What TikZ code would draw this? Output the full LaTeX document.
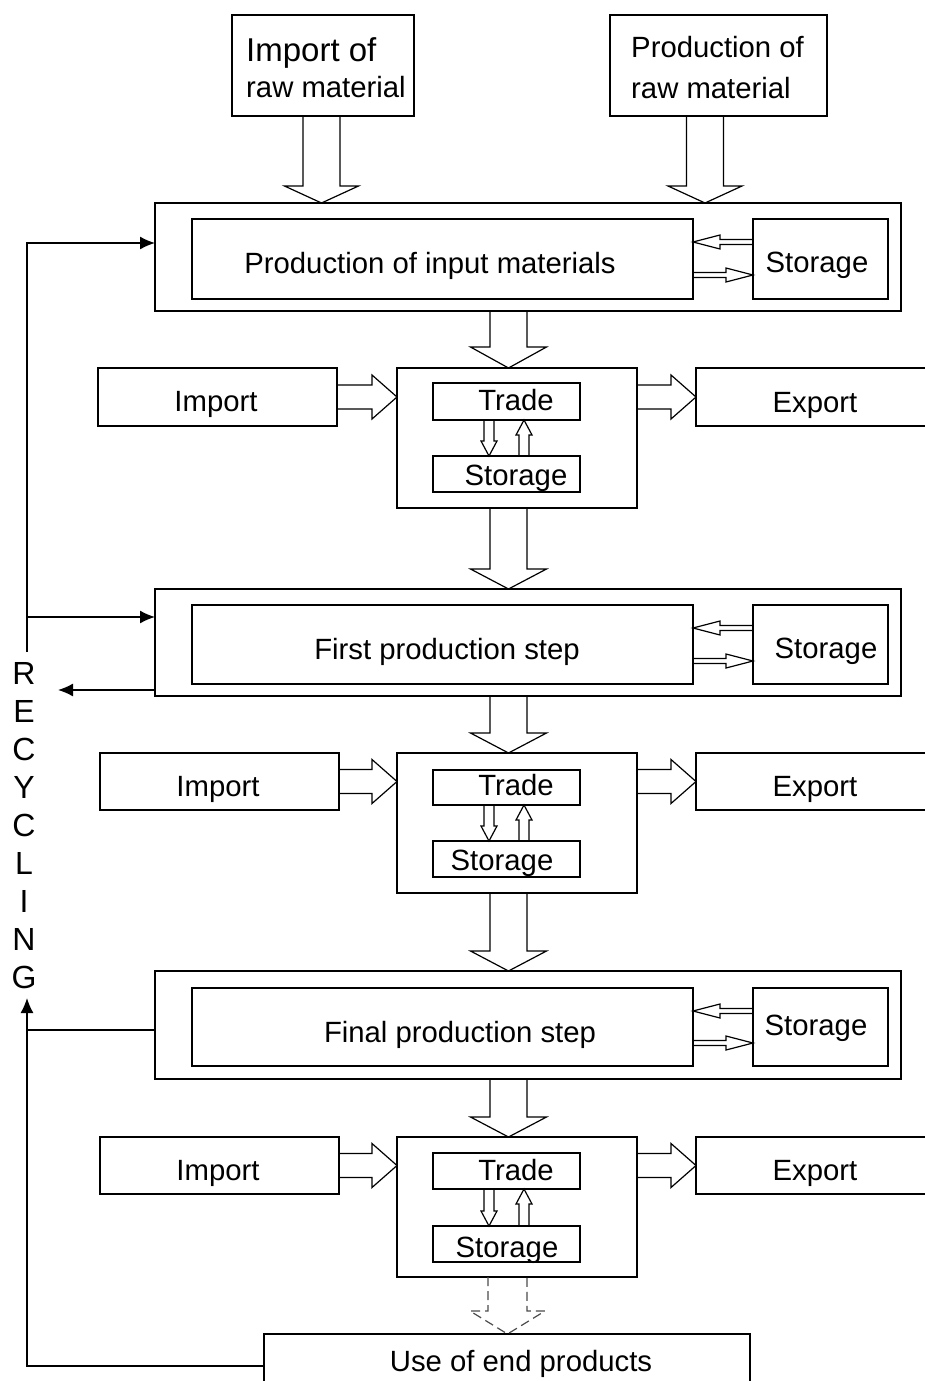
\documentclass[tikz,border=0pt]{standalone}
\usepackage{fontspec}
\setmainfont{Liberation Sans}
\usetikzlibrary{calc,arrows.meta}
\tikzset{
  box/.style={draw,line width=1.5pt,inner sep=0pt,outer sep=0pt,rectangle},
  blk/.style={draw,line width=1.2pt,line join=miter},
  lbl/.style={inner sep=0pt,anchor=base,font=\fontsize{29.3}{38}\selectfont},
  reclbl/.style={inner sep=0pt,anchor=base,font=\fontsize{32}{38}\selectfont},
  conn/.style={line width=1.4pt},
  tipped/.style={-{Latex[length=15pt,width=13pt]}},
  dashblk/.style={dash pattern=on 9pt off 5pt,draw=black!70},
}
\newcommand\mkbox[6][]{\node[box,minimum width={(#5)-(#3)},minimum height={(#6)-(#4)},#1] (#2) at ({(#3+#5)/2},{(#4+#6)/2}) {};}
% block arrows: [style]{tail}{tip}{shaft half}{head half}{head length}
\newcommand\blockD[6][]{\draw[blk,#1] let \p1=#2, \p2=#3 in (\x1-#4pt,\y1) -- (\x1-#4pt,\y2+#6pt) -- (\x1-#5pt,\y2+#6pt) -- (\x1,\y2) -- (\x1+#5pt,\y2+#6pt) -- (\x1+#4pt,\y2+#6pt) -- (\x1+#4pt,\y1);}
\newcommand\blockU[6][]{\draw[blk,#1] let \p1=#2, \p2=#3 in (\x1-#4pt,\y1) -- (\x1-#4pt,\y2-#6pt) -- (\x1-#5pt,\y2-#6pt) -- (\x1,\y2) -- (\x1+#5pt,\y2-#6pt) -- (\x1+#4pt,\y2-#6pt) -- (\x1+#4pt,\y1);}
\newcommand\blockR[6][]{\draw[blk,#1] let \p1=#2, \p2=#3 in (\x1,\y1+#4pt) -- (\x2-#6pt,\y1+#4pt) -- (\x2-#6pt,\y1+#5pt) -- (\x2,\y1) -- (\x2-#6pt,\y1-#5pt) -- (\x2-#6pt,\y1-#4pt) -- (\x1,\y1-#4pt);}
\newcommand\blockL[6][]{\draw[blk,#1] let \p1=#2, \p2=#3 in (\x1,\y1+#4pt) -- (\x2+#6pt,\y1+#4pt) -- (\x2+#6pt,\y1+#5pt) -- (\x2,\y1) -- (\x2+#6pt,\y1-#5pt) -- (\x2+#6pt,\y1-#4pt) -- (\x1,\y1-#4pt);}
\begin{document}
\begin{tikzpicture}[x=1pt,y=-1pt]
\useasboundingbox (0,0) rectangle (925,1381);
\fill[white] (0,0) rectangle (925,1381);
% ---------- top sources
\mkbox{imr}{232}{15}{414}{116}
\mkbox{prm}{610}{15}{827}{116}
\node[lbl,anchor=base west,font=\fontsize{33}{38}\selectfont] (imrA) at (246,62) {Import of};
\node[lbl,anchor=base west] (imrB) at (246,97) {raw material};
\node[lbl,anchor=base west] (prmA) at (631,58) {Production of};
\node[lbl,anchor=base west] (prmB) at (631,98) {raw material};
% ---------- production of input materials
\mkbox{b1}{155}{203}{901}{311}
\mkbox{in1}{192}{219}{693}{299}
\mkbox{s1}{753}{219}{888}{299}
\node[lbl] (tin1) at (430,273) {Production of input materials};
\node[lbl] (ts1) at (817,272) {Storage};
% ---------- trade 1
\mkbox{im1}{98}{368}{337}{426}
\mkbox{t1}{397}{368}{637}{508}
\mkbox{tr1}{433}{383}{580}{420}
\mkbox{st1}{433}{456}{580}{492}
\mkbox{ex1}{696}{368}{940}{426}
\node[lbl] (tim1) at (216,411) {Import};
\node[lbl] (ttr1) at (516,410) {Trade};
\node[lbl] (tst1) at (516,485) {Storage};
\node[lbl] (tex1) at (815,412) {Export};
% ---------- first production step
\mkbox{b2}{155}{589}{901}{696}
\mkbox{in2}{192}{605}{693}{684}
\mkbox{s2}{753}{605}{888}{684}
\node[lbl] (tin2) at (447,659) {First production step};
\node[lbl] (ts2) at (826,658) {Storage};
% ---------- trade 2
\mkbox{im2}{100}{753}{339}{810}
\mkbox{t2}{397}{753}{637}{893}
\mkbox{tr2}{433}{770}{580}{805}
\mkbox{st2}{433}{841}{580}{877}
\mkbox{ex2}{696}{753}{940}{810}
\node[lbl] (tim2) at (218,796) {Import};
\node[lbl] (ttr2) at (516,795) {Trade};
\node[lbl] (tst2) at (502,870) {Storage};
\node[lbl] (tex2) at (815,796) {Export};
% ---------- final production step
\mkbox{b3}{155}{971}{901}{1079}
\mkbox{in3}{192}{988}{693}{1066}
\mkbox{s3}{753}{988}{888}{1066}
\node[lbl] (tin3) at (460,1042) {Final production step};
\node[lbl] (ts3) at (816,1035) {Storage};
% ---------- trade 3
\mkbox{im3}{100}{1137}{339}{1194}
\mkbox{t3}{397}{1137}{637}{1277}
\mkbox{tr3}{433}{1153}{580}{1189}
\mkbox{st3}{433}{1226}{580}{1262}
\mkbox{ex3}{696}{1137}{940}{1194}
\node[lbl] (tim3) at (218,1180) {Import};
\node[lbl] (ttr3) at (516,1180) {Trade};
\node[lbl] (tst3) at (507,1257) {Storage};
\node[lbl] (tex3) at (815,1180) {Export};
% ---------- use of end products
\mkbox{ubox}{264}{1334}{750}{1400}
\node[lbl] (tubox) at (521,1371) {Use of end products};
% ---------- big block arrows
\blockD{($(imr.south)+(-1.5,0)$)}{(b1.north)}{18.5}{37}{17}
\blockD{($(prm.south)+(-13.5,0)$)}{(b1.north)}{18.5}{37}{17}
\blockD{($(b1.south)+(-19.5,0)$)}{(t1.north)}{18.5}{38}{21}
\blockD{($(t1.south)+(-8.5,0)$)}{(b2.north)}{18.5}{38}{20}
\blockD{($(b2.south)+(-19.5,0)$)}{(t2.north)}{18.5}{38}{20}
\blockD{($(t2.south)+(-8.5,0)$)}{(b3.north)}{18.5}{38}{20}
\blockD{($(b3.south)+(-19.5,0)$)}{(t3.north)}{18.5}{38}{20}
\blockD[dashblk]{($(t3.south)+(-9.5,0)$)}{(ubox.north)}{19.5}{37.5}{23}
% import / export arrows
\blockR{(im1.east)}{(t1.west)}{12}{22}{25}
\blockR{(t1.east |- ex1.west)}{(ex1.west)}{12}{22}{25}
\blockR{(im2.east)}{(t2.west)}{12}{22}{25}
\blockR{(t2.east |- ex2.west)}{(ex2.west)}{12}{22}{25}
\blockR{(im3.east)}{(t3.west)}{12}{22}{25}
\blockR{(t3.east |- ex3.west)}{(ex3.west)}{12}{22}{25}
% storage exchange arrows (production boxes)
\blockL{($(s1.west)+(0,-17)$)}{(in1.east)}{2.5}{7}{27}
\blockR{($(in1.east)+(0,16)$)}{(s1.west)}{2.5}{7}{27}
\blockL{($(s2.west)+(0,-16.5)$)}{(in2.east)}{2.5}{7}{27}
\blockR{($(in2.east)+(0,16.5)$)}{(s2.west)}{2.5}{7}{27}
\blockL{($(s3.west)+(0,-16)$)}{(in3.east)}{2.5}{7}{27}
\blockR{($(in3.east)+(0,16)$)}{(s3.west)}{2.5}{7}{27}
% trade / storage arrows
\blockD{($(tr1.south)+(-17.5,0)$)}{(st1.north)}{5}{8}{15}
\blockU{($(st1.north)+(17.5,0)$)}{(tr1.south)}{5}{8}{15}
\blockD{($(tr2.south)+(-17.5,0)$)}{(st2.north)}{5}{8}{15}
\blockU{($(st2.north)+(17.5,0)$)}{(tr2.south)}{5}{8}{15}
\blockD{($(tr3.south)+(-17.5,0)$)}{(st3.north)}{5}{8}{15}
\blockU{($(st3.north)+(17.5,0)$)}{(tr3.south)}{5}{8}{15}
% ---------- recycling
\foreach \ch [count=\i from 0] in {R,E,C,Y,C,L,I,N,G}
  \node[reclbl] (rec\i) at (24,{684+38.1*\i}) {\ch};
\coordinate (rA) at (27,652);
\coordinate (rB) at (28,617);
\coordinate (rC) at (58,690);
\coordinate (rD) at (27,1366);
\coordinate (rE) at (27,1030);
\coordinate (rG) at (27,998);
\draw[conn,tipped] (rA) |- ($(b1.west)+(0,-14)$);
\draw[conn,tipped] (rB) -- (rB -| b2.west);
\draw[conn,tipped] (rC -| b2.west) -- (rC);
\draw[conn,tipped] (rD -| ubox.west) -- (rD) -- (rG);
\draw[conn] (rE -| b3.west) -- (rE);
\end{tikzpicture}
\end{document}
